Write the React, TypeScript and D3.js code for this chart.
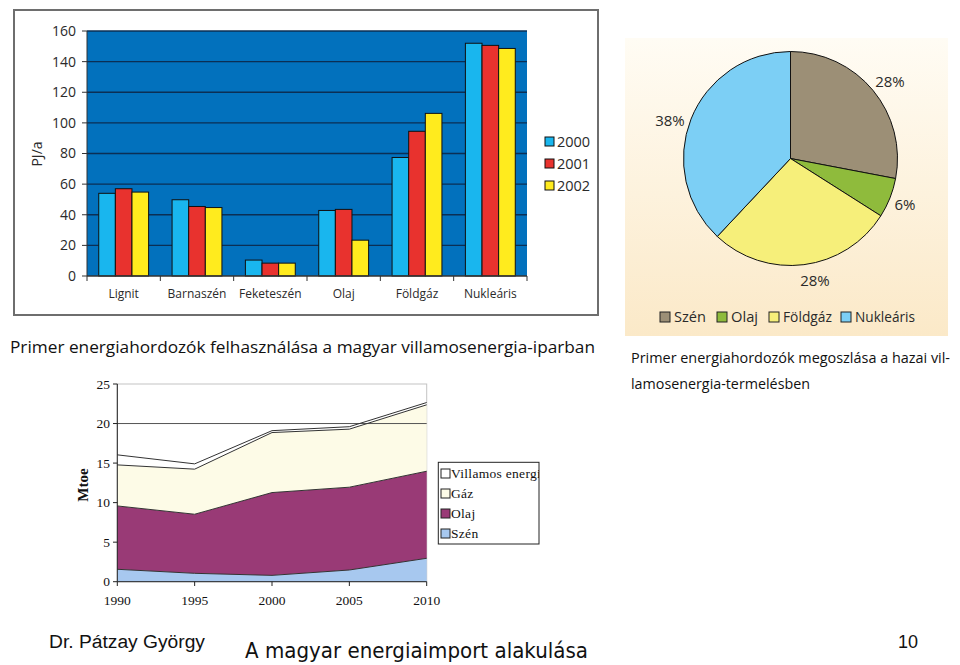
import React from 'react';
import { scaleBand, scaleLinear, pie, arc, stack, area, line } from 'd3';

// bar chart: primary energy use in the power sector (PJ/a)
const barCategories = ['Lignit', 'Barnaszén', 'Feketeszén', 'Olaj', 'Földgáz', 'Nukleáris'];
const barYears = ['2000', '2001', '2002'];
const values2000 = [54, 49.8, 10.4, 42.8, 77.4, 152];
const values2001 = [57, 45.4, 8.4, 43.5, 94.5, 150.6];
const values2002 = [54.8, 44.7, 8.4, 23.4, 106.2, 148.6];
const barTicks = [0, 20, 40, 60, 80, 100, 120, 140, 160];

// pie: share of primary sources in electricity generation
const pieLabels = ['Szén', 'Olaj', 'Földgáz', 'Nukleáris'];
const pieValues = [28, 6, 28, 38];

// stacked area: Mtoe
const areaYears = [1990, 1995, 2000, 2005, 2010];
const szen = [1.57, 1.06, 0.8, 1.48, 2.96];
const olaj = [8.01, 7.47, 10.47, 10.47, 11.01];
const gaz = [5.19, 5.7, 7.59, 7.34, 8.4];
const villamos = [1.27, 0.67, 0.24, 0.31, 0.29];
const areaTicks = [0, 5, 10, 15, 20, 25];

const barColors = ['#19b6ee', '#e8322e', '#ffeb1e'];
const pieColors = ['#9c8f76', '#8fbb3c', '#f6ef7a', '#7ccff5'];
const areaKeys = ['Szén', 'Olaj', 'Gáz', 'Villamos energia'];
const areaColors = ['#a7c8ef', '#993a76', '#fdfbe7', '#ffffff'];

const sans = '"Open Sans", "Noto Sans", sans-serif';
const serif = '"Liberation Serif", "DejaVu Serif", serif';

function BarChart() {
  const x0 = scaleBand<string>().domain(barCategories).range([87, 527]);
  const groupW = x0.bandwidth() * 0.68;
  const x1 = scaleBand<string>().domain(barYears).range([0, groupW]);
  const y = scaleLinear().domain([0, 160]).range([276, 31]);
  const series = [values2000, values2001, values2002];

  return (
    <g>
      <rect x={14} y={10} width={584} height={305} fill="#fff" stroke="#6e6e6e" strokeWidth={2} />
      <rect x={87} y={31} width={440} height={245} fill="#0271bd" />
      {barTicks.slice(1).map((t) => (
        <line key={t} x1={87} x2={527} y1={y(t)} y2={y(t)} stroke="#0b2f55" strokeWidth={1.3} />
      ))}
      {barCategories.map((c, i) => (
        <g key={c} transform={`translate(${x0(c)! + (x0.bandwidth() - groupW) / 2},0)`}>
          {barYears.map((yr, j) => (
            <rect
              key={yr}
              x={x1(yr)}
              y={y(series[j][i])}
              width={x1.bandwidth()}
              height={y(0) - y(series[j][i])}
              fill={barColors[j]}
              stroke="#111"
              strokeWidth={1}
            />
          ))}
        </g>
      ))}
      <line x1={87} x2={527} y1={276} y2={276} stroke="#333" strokeWidth={1.3} />
      <line x1={87} x2={87} y1={31} y2={276} stroke="#333" strokeWidth={1} />
      {barTicks.map((t) => (
        <g key={t}>
          <line x1={82} x2={87} y1={y(t)} y2={y(t)} stroke="#333" />
          <text x={76} y={y(t)} dy="0.35em" textAnchor="end" fontSize={14} fontFamily={sans} fill="#2a2a2a">
            {t}
          </text>
        </g>
      ))}
      {[...barCategories.map((c) => x0(c)!), 527].map((v, i) => (
        <line key={i} x1={v} x2={v} y1={276} y2={281} stroke="#333" />
      ))}
      {barCategories.map((c) => (
        <text key={c} x={x0(c)! + x0.bandwidth() / 2} y={298} textAnchor="middle" fontSize={12} fontFamily={sans} fill="#2a2a2a">
          {c}
        </text>
      ))}
      <text transform="translate(42,154) rotate(-90)" textAnchor="middle" fontSize={14} fontFamily={sans} fill="#2a2a2a">
        PJ/a
      </text>
      {barYears.map((yr, j) => (
        <g key={yr} transform={`translate(545,${137 + j * 22})`}>
          <rect width={9} height={9} fill={barColors[j]} stroke="#111" />
          <text x={12} y={4.5} dy="0.38em" fontSize={14.5} fontFamily={sans} fill="#2a2a2a">
            {yr}
          </text>
        </g>
      ))}
      <text x={10} y={353} fontSize={16} fontWeight={500} fontFamily={sans} fill="#111" textLength={585} lengthAdjust="spacingAndGlyphs">
        Primer energiahordozók felhasználása a magyar villamosenergia-iparban
      </text>
    </g>
  );
}

function PieChart() {
  const cx = 790.5;
  const cy = 158.5;
  const r = 107;
  const arcs = pie<number>().sort(null)(pieValues);
  const arcGen = arc<any>().innerRadius(0).outerRadius(r);
  const labelPos = [
    [890, 82],
    [905, 205],
    [815, 281],
    [670, 121],
  ];
  const legendX = [660, 717, 769, 841];
  const legendW = [32, 27, 49, 60];
  return (
    <g>
      <defs>
        <linearGradient id="beige" x1="0" y1="0" x2="0" y2="1">
          <stop offset="0" stopColor="#fffcf4" />
          <stop offset="1" stopColor="#fbe9c8" />
        </linearGradient>
      </defs>
      <rect x={625} y={38} width={323} height={298} fill="url(#beige)" />
      <g transform={`translate(${cx},${cy})`}>
        {arcs.map((a, i) => (
          <path key={i} d={arcGen(a)!} fill={pieColors[i]} stroke="#111" strokeWidth={1} />
        ))}
      </g>
      {arcs.map((a, i) => (
        <text key={i} x={labelPos[i][0]} y={labelPos[i][1]} dy="0.35em" textAnchor="middle" fontSize={15} fontFamily={sans} fill="#2a2a2a">
          {`${a.data}%`}
        </text>
      ))}
      {pieLabels.map((l, i) => (
        <g key={l} transform={`translate(${legendX[i]},312)`}>
          <rect width={10} height={10} fill={pieColors[i]} stroke="#222" />
          <text x={14} y={5} dy="0.36em" fontSize={15} fontFamily={sans} fill="#2a2a2a" textLength={legendW[i]} lengthAdjust="spacingAndGlyphs">
            {l}
          </text>
        </g>
      ))}
      <text x={631} y={363} fontSize={14} fontWeight={500} fontFamily={sans} fill="#111" textLength={319} lengthAdjust="spacingAndGlyphs">
        Primer energiahordozók megoszlása a hazai vil-
      </text>
      <text x={631} y={389} fontSize={14} fontWeight={500} fontFamily={sans} fill="#111" textLength={179} lengthAdjust="spacingAndGlyphs">
        lamosenergia-termelésben
      </text>
    </g>
  );
}

function AreaChart() {
  const x = scaleLinear().domain([1990, 2010]).range([117.3, 426.7]);
  const y = scaleLinear().domain([0, 25]).range([581.7, 384]);
  const rows = areaYears.map((yr, i) => ({
    year: yr,
    'Szén': szen[i],
    'Olaj': olaj[i],
    'Gáz': gaz[i],
    'Villamos energia': villamos[i],
  }));
  const layers = stack<any>().keys(areaKeys)(rows);
  const areaGen = area<any>()
    .x((d) => x(d.data.year))
    .y0((d) => y(d[0]))
    .y1((d) => y(d[1]));
  const topLine = line<any>()
    .x((d) => x(d.data.year))
    .y((d) => y(d[1]));

  return (
    <g>
      <rect x={117.3} y={384} width={309.4} height={197.7} fill="#fff" stroke="#c4c4c4" strokeWidth={1} />
      {layers.map((l, i) => (
        <path key={l.key} d={areaGen(l)!} fill={areaColors[i]} />
      ))}
      <line x1={117.3} x2={426.7} y1={y(20)} y2={y(20)} stroke="#555" strokeWidth={1} />
      {layers.map((l) => (
        <path key={l.key} d={topLine(l)!} fill="none" stroke="#333" strokeWidth={1} />
      ))}
      <line x1={117.3} x2={117.3} y1={384} y2={581.7} stroke="#222" />
      <line x1={117.3} x2={426.7} y1={581.7} y2={581.7} stroke="#222" />
      {areaTicks.map((t) => (
        <g key={t}>
          <line x1={113} x2={117.3} y1={y(t)} y2={y(t)} stroke="#222" />
          <text x={110} y={y(t)} dy="0.35em" textAnchor="end" fontSize={13.5} fontFamily={serif} fill="#111">
            {t}
          </text>
        </g>
      ))}
      {areaYears.map((yr) => (
        <g key={yr}>
          <line x1={x(yr)} x2={x(yr)} y1={581.7} y2={586} stroke="#222" />
          <text x={x(yr)} y={605} textAnchor="middle" fontSize={13.5} fontFamily={serif} fill="#111">
            {yr}
          </text>
        </g>
      ))}
      <text transform="translate(88,485) rotate(-90)" textAnchor="middle" fontSize={15} fontWeight="bold" fontFamily={serif} fill="#111">
        Mtoe
      </text>
      <defs>
        <clipPath id="legclip">
          <rect x={438} y={462} width={101} height={82} />
        </clipPath>
      </defs>
      <rect x={438.3} y={462.3} width={100.7} height={81.7} fill="#fff" stroke="#222" />
      <g clipPath="url(#legclip)">
        {areaKeys
          .slice()
          .reverse()
          .map((k, i) => {
            const ci = areaKeys.length - 1 - i;
            return (
              <g key={k} transform={`translate(441,${469 + i * 20})`}>
                <rect width={9} height={9} fill={areaColors[ci]} stroke="#222" />
                <text x={10} y={4.5} dy="0.36em" fontSize={13.5} letterSpacing={0.3} fontFamily={serif} fill="#111">
                  {k}
                </text>
              </g>
            );
          })}
      </g>
    </g>
  );
}

export default function App() {
  return (
    <svg width={960} height={665} style={{ position: 'absolute', left: 0, top: 0, background: '#fff' }}>
      <rect width={960} height={665} fill="#fff" />
      <BarChart />
      <PieChart />
      <AreaChart />
      <text x={49} y={648} fontSize={18} fontFamily='"Liberation Sans", Arial, sans-serif' fill="#111" textLength={156} lengthAdjust="spacingAndGlyphs">
        Dr. Pátzay György
      </text>
      <text x={245} y={658} fontSize={21} fontFamily='"DejaVu Sans", sans-serif' fill="#111" textLength={343} lengthAdjust="spacingAndGlyphs">
        A magyar energiaimport alakulása
      </text>
      <text x={898} y={648} fontSize={18} fontFamily='"Liberation Sans", Arial, sans-serif' fill="#111">
        10
      </text>
    </svg>
  );
}
